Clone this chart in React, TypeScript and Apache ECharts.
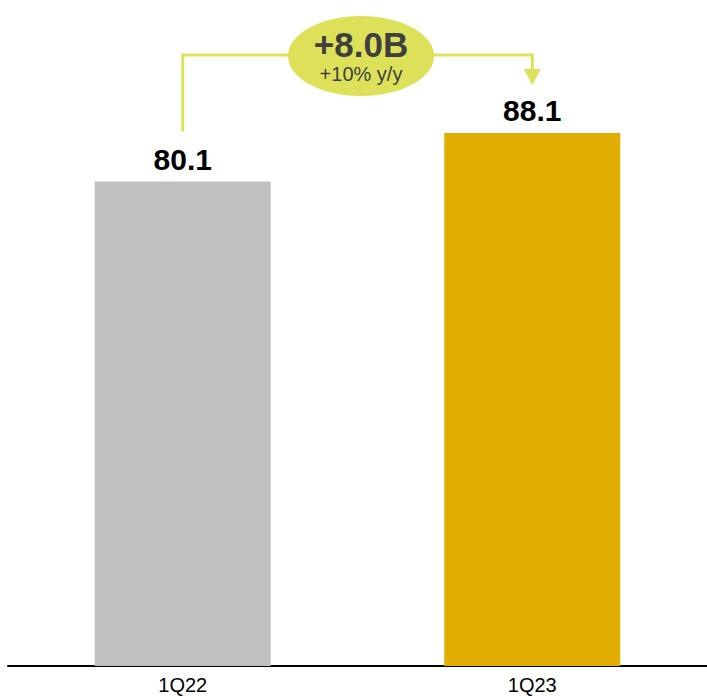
import React, { useEffect, useRef } from "react";
import * as echarts from "echarts";

const categories = ["1Q22", "1Q23"];
const values = [80.1, 88.1];
const barColors = ["#c0c0c0", "#e0ad00"];
const changeText = "+8.0B";
const changePct = "+10% y/y";

export default function App() {
  const ref = useRef<HTMLDivElement>(null);
  useEffect(() => {
    if (!ref.current) return;
    const chart = echarts.init(ref.current, null, { renderer: "svg" });
    const font = "'Liberation Sans', Arial, sans-serif";
    chart.setOption({
      animation: false,
      grid: { left: 8, width: 704, top: 61, bottom: 30 },
      xAxis: {
        type: "category",
        data: categories,
        axisLine: { lineStyle: { color: "#000", width: 2 } },
        axisTick: { show: false },
        axisLabel: { color: "#000", fontSize: 20, fontFamily: font, margin: 9 },
      },
      yAxis: { type: "value", min: 0, max: 100, show: false, splitLine: { show: false } },
      series: [
        {
          type: "bar",
          barWidth: 176,
          data: values.map((v, i) => ({ value: v, itemStyle: { color: barColors[i] } })),
          label: {
            show: true,
            position: "top",
            distance: 7,
            color: "#000",
            fontSize: 30,
            fontWeight: "bold",
            fontFamily: font,
          },
        },
      ],
    });
    const p0 = chart.convertToPixel({ gridIndex: 0 }, [0, values[0]]) as number[];
    const p1 = chart.convertToPixel({ gridIndex: 0 }, [1, values[1]]) as number[];
    const lineY = 55;
    const ecx = 361;
    const ecy = 56;
    const lc = "#dde15a";
    const rx = 73;
    const ry = 40;
    chart.setOption({
      graphic: [
        {
          type: "polyline",
          shape: { points: [[p0[0], p0[1] - 50], [p0[0], lineY], [ecx - rx + 2, lineY]] },
          style: { stroke: lc, lineWidth: 3, fill: "none" },
        },
        {
          type: "polyline",
          shape: { points: [[ecx + rx - 2, lineY], [p1[0], lineY], [p1[0], p1[1] - 63]] },
          style: { stroke: lc, lineWidth: 3, fill: "none" },
        },
        {
          type: "polygon",
          shape: {
            points: [
              [p1[0] - 8.5, p1[1] - 64],
              [p1[0] + 8.5, p1[1] - 64],
              [p1[0], p1[1] - 48],
            ],
          },
          style: { fill: lc },
        },
        {
          type: "ellipse",
          shape: { cx: ecx, cy: ecy, rx, ry },
          style: { fill: lc },
        },
        {
          type: "text",
          x: ecx,
          y: 44,
          style: {
            text: changeText,
            fill: "#3f3f3f",
            fontSize: 35,
            fontWeight: "bold",
            fontFamily: font,
            align: "center",
            verticalAlign: "middle",
          },
        },
        {
          type: "text",
          x: ecx,
          y: 74,
          style: {
            text: changePct,
            fill: "#3f3f3f",
            fontSize: 20,
            fontFamily: font,
            align: "center",
            verticalAlign: "middle",
          },
        },
      ],
    });
    return () => chart.dispose();
  }, []);
  return <div ref={ref} style={{ width: 707, height: 696, position: "absolute", left: 0, top: 0 }} />;
}
